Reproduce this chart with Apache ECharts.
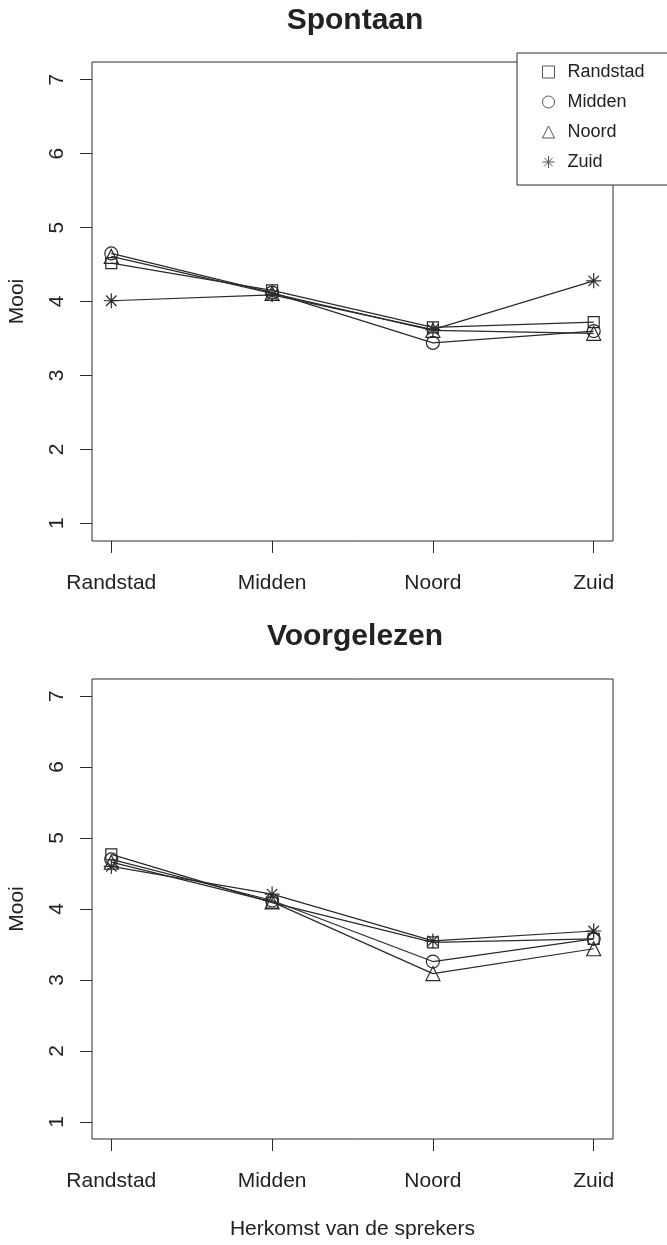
<!DOCTYPE html>
<html>
<head>
<meta charset="utf-8">
<script src="https://cdn.jsdelivr.net/npm/echarts@6/dist/echarts.min.js"></script>
<style>
html,body{margin:0;padding:0;background:#fff;}
#chart{width:667px;height:1245px;}
</style>
</head>
<body>
<div id="chart"></div>
<script>
const categories = ['Randstad', 'Midden', 'Noord', 'Zuid'];
const yTicks = [1, 2, 3, 4, 5, 6, 7];
const groups = ['Randstad', 'Midden', 'Noord', 'Zuid'];

// Spontaan (top panel)
const spontaanRandstad = [4.52, 4.15, 3.65, 3.72];
const spontaanMidden   = [4.65, 4.12, 3.44, 3.60];
const spontaanNoord    = [4.61, 4.11, 3.61, 3.57];
const spontaanZuid     = [4.01, 4.09, 3.62, 4.28];

// Voorgelezen (bottom panel)
const voorRandstad = [4.77, 4.09, 3.53, 3.58];
const voorMidden   = [4.70, 4.12, 3.26, 3.58];
const voorNoord    = [4.66, 4.10, 3.09, 3.44];
const voorZuid     = [4.60, 4.21, 3.55, 3.69];

const FONT = 'Liberation Sans, Arial, sans-serif';
const INK = '#2a2a2a';
const STAR = 'path://M-1,0L1,0M0,-1L0,1M-0.7,-0.7L0.7,0.7M-0.7,0.7L0.7,-0.7';
const symbols = ['rect', 'circle', 'triangle', STAR];
const symbolSizes = [11, 13, 14, 15];

const chart = echarts.init(document.getElementById('chart'), null, {renderer: 'canvas'});

function xAxisDef(gridIndex, withName) {
  const ax = {
    type: 'value', gridIndex: gridIndex, min: 0.88, max: 4.12,
    axisLine: {show: false},
    splitLine: {show: false},
    axisTick: {show: true, length: 12, inside: false, customValues: [1, 2, 3, 4], lineStyle: {color: INK}},
    axisLabel: {
      customValues: [1, 2, 3, 4], margin: 32,
      fontSize: 21, color: '#222', fontFamily: FONT,
      formatter: v => categories[Math.round(v) - 1] || ''
    }
  };
  if (withName) {
    ax.name = 'Herkomst van de sprekers';
    ax.nameLocation = 'middle';
    ax.nameGap = 80;
    ax.nameTextStyle = {fontSize: 21, color: '#222', fontFamily: FONT};
  }
  return ax;
}
function yAxisDef(gridIndex) {
  return {
    type: 'value', gridIndex: gridIndex, min: 0.76, max: 7.24,
    axisLine: {show: false},
    splitLine: {show: false},
    axisTick: {show: true, length: 12, customValues: yTicks, lineStyle: {color: INK}},
    axisLabel: {customValues: yTicks, rotate: 90, margin: 24, fontSize: 21, color: '#222', fontFamily: FONT},
    name: 'Mooi', nameLocation: 'middle', nameGap: 64,
    nameTextStyle: {fontSize: 21, color: '#222', fontFamily: FONT}
  };
}

function mkSeries(name, values, idx, gi) {
  return {
    name: name, type: 'line', xAxisIndex: gi, yAxisIndex: gi,
    data: values.map((v, i) => [i + 1, v]),
    symbol: symbols[idx], symbolSize: symbolSizes[idx],
    showAllSymbol: true,
    itemStyle: {color: 'rgba(0,0,0,0)', borderColor: INK, borderWidth: 1.2},
    lineStyle: {color: INK, width: 1.2},
    emphasis: {disabled: true},
    animation: false,
    z: 3
  };
}

const topVals = [spontaanRandstad, spontaanMidden, spontaanNoord, spontaanZuid];
const botVals = [voorRandstad, voorMidden, voorNoord, voorZuid];
const series = [];
groups.forEach((g, i) => series.push(mkSeries(g, topVals[i], i, 0)));
groups.forEach((g, i) => series.push(mkSeries(g, botVals[i], i, 1)));

chart.setOption({
  backgroundColor: '#fff',
  animation: false,
  title: [
    {text: 'Spontaan', left: 350, top: 1, textAlign: 'center',
     textStyle: {fontSize: 30, fontWeight: 'bold', color: '#222', fontFamily: FONT}},
    {text: 'Voorgelezen', left: 350, top: 617, textAlign: 'center',
     textStyle: {fontSize: 30, fontWeight: 'bold', color: '#222', fontFamily: FONT}}
  ],
  legend: {
    orient: 'vertical', left: 517, top: 53,
    padding: [9, 60, 13, 25],
    itemWidth: 12, itemHeight: 12, itemGap: 10,
    borderColor: INK, borderWidth: 1, backgroundColor: '#fff',
    selectedMode: false,
    itemStyle: {color: 'rgba(0,0,0,0)', borderColor: '#555', borderWidth: 1},
    textStyle: {fontSize: 18, lineHeight: 20, color: '#222', fontFamily: FONT, padding: [0, 0, 0, 8]},
    data: groups.map((g, i) => ({name: g, icon: symbols[i]}))
  },
  grid: [
    {left: 92, top: 62, width: 521, height: 479, show: true, borderColor: INK, borderWidth: 1,
     backgroundColor: 'transparent', containLabel: false, outerBoundsMode: 'none'},
    {left: 92, top: 679, width: 521, height: 460, show: true, borderColor: INK, borderWidth: 1,
     backgroundColor: 'transparent', containLabel: false, outerBoundsMode: 'none'}
  ],
  xAxis: [xAxisDef(0, false), xAxisDef(1, true)],
  yAxis: [yAxisDef(0), yAxisDef(1)],
  series: series
});
</script>
</body>
</html>
